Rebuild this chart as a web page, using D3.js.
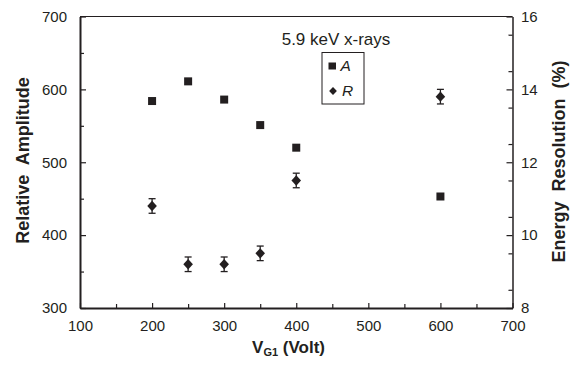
<!DOCTYPE html>
<html>
<head>
<meta charset="utf-8">
<script src="https://cdn.jsdelivr.net/npm/d3@7"></script>
<style>
  body { margin: 0; background: #fff; }
  svg text { font-family: "Liberation Sans", Arial, sans-serif; fill: #231f20; }
</style>
</head>
<body>
<figure id="chart" style="margin:0"></figure>
<script>
// data
const voltages = [200, 250, 300, 350, 400, 600];
const amplitude = [584, 611, 586, 551, 520, 453];
const resolution = [10.8, 9.2, 9.2, 9.5, 11.5, 13.8];
const resolutionErr = [0.2, 0.2, 0.2, 0.2, 0.2, 0.2];
const xTicks = [100, 200, 300, 400, 500, 600, 700];
const yLeftTicks = [300, 400, 500, 600, 700];
const yRightTicks = [8, 10, 12, 14, 16];

const width = 580, height = 366;
const margin = {left: 80, right: 67.5, top: 16.5, bottom: 58};
const innerW = width - margin.left - margin.right;
const innerH = height - margin.top - margin.bottom;
const ink = "#231f20";

const svg = d3.select("figure#chart")
  .append("svg")
  .attr("width", width)
  .attr("height", height);

const g = svg.append("g")
  .attr("transform", "translate(" + margin.left + "," + margin.top + ")");

const x = d3.scaleLinear().domain([100, 700]).range([0, innerW]);
const yA = d3.scaleLinear().domain([300, 700]).range([innerH, 0]);
const yR = d3.scaleLinear().domain([8, 16]).range([innerH, 0]);

// top frame line
g.append("line")
  .attr("x1", 0).attr("x2", innerW).attr("y1", 0).attr("y2", 0)
  .attr("stroke", ink).attr("stroke-width", 1.2);

// minor ticks (drawn inward)
function minorTicks(axisGen, vals, transform) {
  const a = g.append("g").attr("transform", transform)
    .call(axisGen.tickValues(vals).tickFormat("").tickSizeOuter(0));
  a.select(".domain").remove();
  a.selectAll("line").attr("stroke", ink).attr("stroke-width", 1.2);
}
minorTicks(d3.axisTop(x).tickSize(4), d3.range(150, 700, 100), "translate(0," + innerH + ")");
minorTicks(d3.axisRight(yA).tickSize(4), d3.range(350, 700, 100), "translate(0,0)");
minorTicks(d3.axisLeft(yR).tickSize(4), d3.range(8.5, 16, 1), "translate(" + innerW + ",0)");

// bottom axis
const xAxis = g.append("g")
  .attr("transform", "translate(0," + innerH + ")")
  .call(d3.axisBottom(x).tickValues(xTicks).tickSize(0).tickPadding(12).tickSizeOuter(0));
xAxis.select(".domain").attr("stroke", ink).attr("stroke-width", 2);
xAxis.selectAll("text").style("font-size", "15px").attr("fill", ink);
g.append("g").attr("transform", "translate(0," + innerH + ")")
  .call(d3.axisTop(x).tickValues(xTicks).tickFormat("").tickSize(5).tickSizeOuter(0))
  .call(s => s.select(".domain").remove())
  .selectAll("line").attr("stroke", ink).attr("stroke-width", 1.2);

// left axis
const yAxisL = g.append("g")
  .call(d3.axisLeft(yA).tickValues(yLeftTicks).tickSize(0).tickPadding(13).tickSizeOuter(0));
yAxisL.select(".domain").attr("stroke", ink).attr("stroke-width", 2);
yAxisL.selectAll("text").style("font-size", "15px").attr("fill", ink);
g.append("g")
  .call(d3.axisRight(yA).tickValues(yLeftTicks).tickFormat("").tickSize(6).tickSizeOuter(0))
  .call(s => s.select(".domain").remove())
  .selectAll("line").attr("stroke", ink).attr("stroke-width", 1.2);

// right axis
const yAxisR = g.append("g")
  .attr("transform", "translate(" + innerW + ",0)")
  .call(d3.axisRight(yR).tickValues(yRightTicks).tickSize(0).tickPadding(8.5).tickSizeOuter(0));
yAxisR.select(".domain").attr("stroke", ink).attr("stroke-width", 1.5);
yAxisR.selectAll("text").style("font-size", "15px").attr("fill", ink);
g.append("g")
  .attr("transform", "translate(" + innerW + ",0)")
  .call(d3.axisLeft(yR).tickValues(yRightTicks).tickFormat("").tickSize(6).tickSizeOuter(0))
  .call(s => s.select(".domain").remove())
  .selectAll("line").attr("stroke", ink).attr("stroke-width", 1.2);

// axis titles
svg.append("text")
  .attr("transform", "translate(29,160.5) rotate(-90)")
  .attr("text-anchor", "middle")
  .style("font-size", "18px").style("font-weight", "bold")
  .attr("xml:space", "preserve")
  .text("Relative  Amplitude");

svg.append("text")
  .attr("transform", "translate(565,161.5) rotate(-90)")
  .attr("text-anchor", "middle")
  .style("font-size", "18px").style("font-weight", "bold")
  .attr("xml:space", "preserve")
  .text("Energy  Resolution  (%)");

const xTitle = svg.append("text")
  .attr("x", 288.5).attr("y", 353)
  .attr("text-anchor", "middle")
  .style("font-size", "17px").style("font-weight", "bold");
xTitle.append("tspan").text("V");
xTitle.append("tspan").attr("dy", 3).style("font-size", "11px").text("G1");
xTitle.append("tspan").attr("dy", -3).text(" (Volt)");

// amplitude squares
const sq = 8;
g.selectAll("rect.amp")
  .data(voltages)
  .enter()
  .append("rect")
  .attr("class", "amp")
  .attr("x", (d) => x(d) - sq / 2)
  .attr("y", (d, i) => yA(amplitude[i]) - sq / 2)
  .attr("width", sq)
  .attr("height", sq)
  .attr("fill", ink);

// resolution error bars
const cap = 3.5;
const err = g.selectAll("g.err")
  .data(voltages)
  .enter()
  .append("g")
  .attr("class", "err")
  .attr("stroke", ink)
  .attr("stroke-width", 1.3);
err.append("line")
  .attr("x1", d => x(d)).attr("x2", d => x(d))
  .attr("y1", (d, i) => yR(resolution[i] + resolutionErr[i]))
  .attr("y2", (d, i) => yR(resolution[i] - resolutionErr[i]));
err.append("line")
  .attr("x1", d => x(d) - cap).attr("x2", d => x(d) + cap)
  .attr("y1", (d, i) => yR(resolution[i] + resolutionErr[i]))
  .attr("y2", (d, i) => yR(resolution[i] + resolutionErr[i]));
err.append("line")
  .attr("x1", d => x(d) - cap).attr("x2", d => x(d) + cap)
  .attr("y1", (d, i) => yR(resolution[i] - resolutionErr[i]))
  .attr("y2", (d, i) => yR(resolution[i] - resolutionErr[i]));

// resolution diamonds
const diamond = (cx, cy, w, h) =>
  "M" + cx + "," + (cy - h) + "L" + (cx + w) + "," + cy + "L" + cx + "," + (cy + h) + "L" + (cx - w) + "," + cy + "Z";
g.selectAll("path.res")
  .data(voltages)
  .enter()
  .append("path")
  .attr("class", "res")
  .attr("d", (d, i) => diamond(x(d), yR(resolution[i]), 4.8, 5.2))
  .attr("fill", ink);

// legend
svg.append("text")
  .attr("x", 336).attr("y", 45)
  .attr("text-anchor", "middle")
  .style("font-size", "17px")
  .text("5.9 keV x-rays");

svg.append("rect")
  .attr("x", 322).attr("y", 52.5)
  .attr("width", 42).attr("height", 51.5)
  .attr("fill", "none").attr("stroke", ink).attr("stroke-width", 1);

svg.append("rect")
  .attr("x", 328.5).attr("y", 62.5)
  .attr("width", 7.5).attr("height", 7)
  .attr("fill", ink);
svg.append("text")
  .attr("x", 340.5).attr("y", 71)
  .style("font-size", "15.5px").style("font-style", "italic")
  .text("A");

svg.append("path")
  .attr("d", diamond(333, 91, 3.9, 4))
  .attr("fill", ink);
svg.append("text")
  .attr("x", 342).attr("y", 95.5)
  .style("font-size", "15.5px").style("font-style", "italic")
  .text("R");
</script>
</body>
</html>
